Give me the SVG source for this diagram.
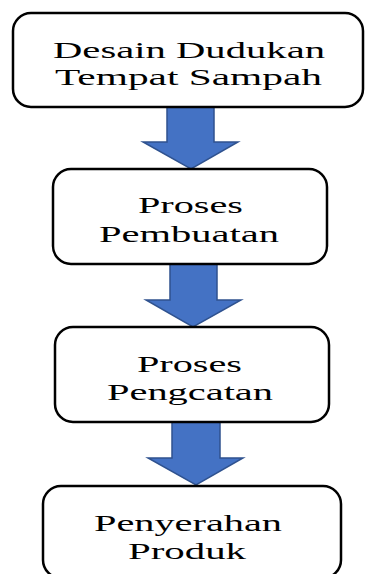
<svg xmlns="http://www.w3.org/2000/svg" width="365" height="574" viewBox="0 0 365 574">
<style>
.box{fill:#fff;stroke:#000;stroke-width:2.5}
.arr{fill:#4472C4;stroke:#2F528F;stroke-width:1.5;stroke-linejoin:miter}
.t{font-family:"Liberation Serif","Times New Roman",serif;font-size:24px;fill:#000}
</style>
<rect width="365" height="574" fill="#fff"/>
<g id="connectors">
<polygon class="arr" points="167,107 214,107 214,142 238,142 191,169 143,142 167,142"/>
<polygon class="arr" points="170,264 217,264 217,300 241,300 193,327 146,300 170,300"/>
<polygon class="arr" points="172,422 220,422 220,458 243,458 196,485 148,458 172,458"/>
</g>
<g id="node1">
<rect class="box" x="13" y="13" width="350" height="94" rx="18"/>
<text class="t" style="font-size:23px" x="53" y="58" textLength="272" lengthAdjust="spacingAndGlyphs">Desain Dudukan</text>
<text class="t" style="font-size:23px" x="55" y="85" textLength="267" lengthAdjust="spacingAndGlyphs">Tempat Sampah</text>
</g>
<g id="node2">
<rect class="box" x="53" y="169" width="274" height="95" rx="18"/>
<text class="t" x="138" y="213" textLength="105" lengthAdjust="spacingAndGlyphs">Proses</text>
<text class="t" x="99" y="242" textLength="180" lengthAdjust="spacingAndGlyphs">Pembuatan</text>
</g>
<g id="node3">
<rect class="box" x="55" y="327" width="274" height="95" rx="18"/>
<text class="t" x="137" y="372" textLength="105" lengthAdjust="spacingAndGlyphs">Proses</text>
<text class="t" x="107" y="400" textLength="166" lengthAdjust="spacingAndGlyphs">Pengcatan</text>
</g>
<g id="node4">
<rect class="box" x="43" y="486" width="298" height="92" rx="18"/>
<text class="t" x="94" y="531" textLength="188" lengthAdjust="spacingAndGlyphs">Penyerahan</text>
<text class="t" x="128" y="559" textLength="118" lengthAdjust="spacingAndGlyphs">Produk</text>
</g>
</svg>
